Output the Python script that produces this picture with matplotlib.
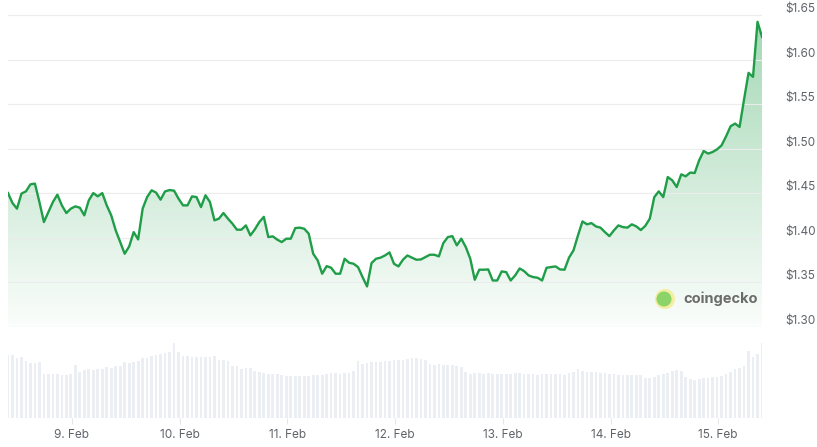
import numpy as np
import pandas as pd
import matplotlib
matplotlib.use("Agg")
import matplotlib.pyplot as plt
import matplotlib.dates as mdates
from matplotlib.colors import LinearSegmentedColormap
from matplotlib.patches import Circle

plt.rcParams['font.family'] = ['Inter', 'DejaVu Sans']

# hourly prices in USD
prices = [
    1.4503, 1.4391, 1.4328, 1.4497, 1.4522, 1.4601, 1.4609, 1.4402, 1.4178, 1.4290,
    1.4402, 1.4485, 1.4365, 1.4279, 1.4328, 1.4354, 1.4339, 1.4253, 1.4421, 1.4503,
    1.4466, 1.4503, 1.4365, 1.4253, 1.4084, 1.3953, 1.3822, 1.3904, 1.4065, 1.3983,
    1.4328, 1.4458, 1.4534, 1.4508, 1.4429, 1.4522, 1.4537, 1.4530, 1.4440, 1.4365,
    1.4365, 1.4466, 1.4458, 1.4346, 1.4478, 1.4402, 1.4197, 1.4216, 1.4279, 1.4216,
    1.4160, 1.4092, 1.4092, 1.4140, 1.4028, 1.4096, 1.4178, 1.4236, 1.4009, 1.4017,
    1.3980, 1.3953, 1.3991, 1.3991, 1.4110, 1.4115, 1.4103, 1.4047, 1.3822, 1.3747,
    1.3598, 1.3683, 1.3665, 1.3598, 1.3598, 1.3766, 1.3721, 1.3710, 1.3672, 1.3560,
    1.3455, 1.3717, 1.3766, 1.3778, 1.3803, 1.3837, 1.3710, 1.3680, 1.3755, 1.3803,
    1.3778, 1.3755, 1.3758, 1.3784, 1.3811, 1.3811, 1.3792, 1.3942, 1.4009, 1.4020,
    1.3916, 1.3991, 1.3897, 1.3766, 1.3530, 1.3643, 1.3643, 1.3646, 1.3522, 1.3522,
    1.3624, 1.3616, 1.3522, 1.3579, 1.3657, 1.3627, 1.3579, 1.3560, 1.3553, 1.3522,
    1.3665, 1.3672, 1.3680, 1.3646, 1.3643, 1.3778, 1.3860, 1.4028, 1.4185, 1.4152,
    1.4166, 1.4129, 1.4115, 1.4065, 1.4020, 1.4084, 1.4140, 1.4121, 1.4115, 1.4152,
    1.4129, 1.4088, 1.4135, 1.4216, 1.4458, 1.4522, 1.4458, 1.4683, 1.4646, 1.4571,
    1.4713, 1.4691, 1.4733, 1.4728, 1.4871, 1.4975, 1.4946, 1.4964, 1.4994, 1.5039,
    1.5140, 1.5253, 1.5283, 1.5245, 1.5553, 1.5852, 1.5807, 1.6425, 1.6256,
]

# hourly volume, relative units (bar heights)
volumes = [
    63, 63, 60, 61, 57, 55, 55, 56, 44, 44, 44, 44, 43, 43, 44, 53, 46, 48, 49, 48,
    49, 49, 51, 50, 52, 52, 56, 55, 56, 57, 60, 60, 62, 63, 64, 65, 66, 75, 66, 62,
    62, 61, 61, 61, 61, 61, 62, 58, 58, 57, 52, 52, 49, 50, 50, 47, 46, 45, 44, 44,
    44, 43, 42, 42, 42, 42, 42, 42, 43, 43, 43, 44, 45, 45, 44, 45, 45, 47, 57, 54,
    55, 56, 56, 56, 57, 57, 58, 58, 58, 59, 60, 60, 59, 58, 54, 53, 54, 53, 53, 53,
    52, 51, 46, 44, 45, 45, 44, 45, 44, 44, 44, 44, 44, 45, 45, 44, 44, 44, 43, 44,
    44, 44, 44, 44, 43, 45, 46, 49, 47, 46, 46, 46, 45, 45, 44, 44, 43, 43, 43, 43,
    43, 43, 40, 40, 41, 43, 44, 45, 47, 48, 47, 41, 39, 38, 39, 40, 40, 41, 41, 42,
    44, 46, 49, 50, 52, 67, 61, 64, 75,
]

y_ticks = [1.30, 1.35, 1.40, 1.45, 1.50, 1.55, 1.60, 1.65]

times = pd.date_range('2025-02-08 09:45', periods=len(prices), freq='h')

line_color = '#1f9d48'
text_color = '#5f6368'

fig = plt.figure(figsize=(8.17, 4.47), dpi=100)
W, H = 817, 447
ax = fig.add_axes([8 / W, 1 - 327 / H, 754 / W, 319 / H])
axv = fig.add_axes([8 / W, 1 - 418 / H, 754 / W, 78 / H], sharex=ax)

ymin, ymax = 1.30, 1.658
ax.set_ylim(ymin, ymax)
ax.set_xlim(times[0], times[-1])

# gradient fill under the line
xnum = mdates.date2num(times)
poly = ax.fill_between(times, prices, ymin, color='none', lw=0)
cmap = LinearSegmentedColormap.from_list(
    'g', [(0.12, 0.62, 0.28, 0.02), (0.12, 0.62, 0.28, 0.42)])
grad = np.linspace(0, 1, 256).reshape(-1, 1)
img = ax.imshow(grad, cmap=cmap, origin='lower', aspect='auto',
                extent=[xnum[0], xnum[-1], ymin, ymax], zorder=1)
img.set_clip_path(poly.get_paths()[0], transform=ax.transData)
ax.plot(times, prices, color=line_color, lw=1.7, zorder=3, solid_joinstyle='round')

ax.set_yticks(y_ticks)
ax.set_yticklabels([f'${v:.2f}' for v in y_ticks])
ax.yaxis.tick_right()
ax.tick_params(axis='y', length=0, pad=17, labelsize=8.5, labelcolor=text_color)
for lab in ax.get_yticklabels():
    lab.set_verticalalignment('bottom')
ax.grid(axis='y', color='#ececec', lw=0.8, zorder=0)
ax.tick_params(axis='x', bottom=False, labelbottom=False)
for s in ax.spines.values():
    s.set_visible(False)

# coingecko watermark
ax.add_patch(Circle((665, H - 299), 10, transform=None, facecolor='#f3eea0',
                    edgecolor='none', zorder=4))
ax.add_patch(Circle((664, H - 299), 7.5, transform=None, facecolor='#8cd36a',
                    edgecolor='none', zorder=5))
fig.text(683 / W, 1 - 299 / H, 'coingecko', fontsize=10.5, fontweight='bold',
         color='#6b6b6b', va='center', ha='left')

# volume bars
axv.bar(times, volumes, width=0.6 / 24, color='#ebeef2', align='center')
axv.set_ylim(0, 78)
axv.set_yticks([])
for s in axv.spines.values():
    s.set_visible(False)
axv.xaxis.set_major_locator(mdates.DayLocator())
axv.xaxis.set_major_formatter(mdates.DateFormatter('%-d. %b'))
axv.tick_params(axis='x', length=4, color='#e6e6e6', pad=4, labelsize=8.5,
                labelcolor=text_color)

fig.savefig('out.png', dpi=100)
